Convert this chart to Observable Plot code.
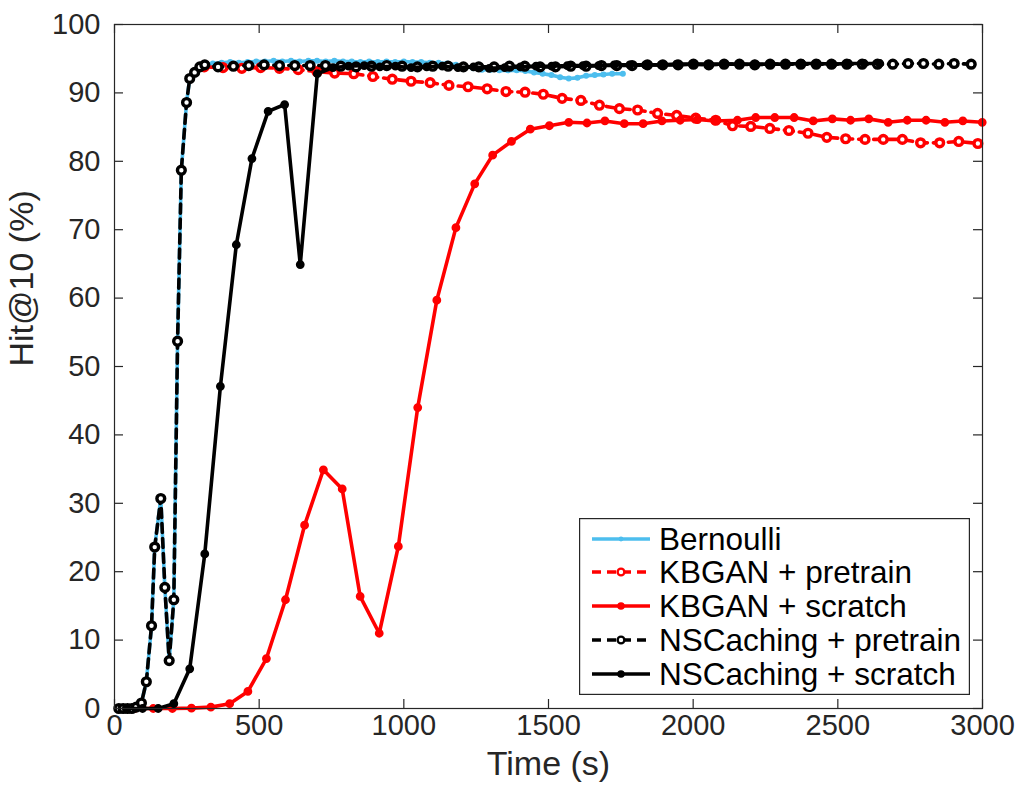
<!DOCTYPE html>
<html><head><meta charset="utf-8">
<script src="https://cdn.jsdelivr.net/npm/d3@7"></script>
<script src="https://cdn.jsdelivr.net/npm/@observablehq/plot@0.6"></script>
<style>
body{margin:0;background:#fff;}
#wrap{position:relative;width:1027px;height:799px;font-family:"Liberation Sans",Arial,Helvetica,sans-serif;}
#legend{position:absolute;left:579px;top:518px;}
</style>
</head><body><div id="wrap"></div>
<script>
// ---- data (time in s, Hit@10 in %) ----
const xTicks = [0, 500, 1000, 1500, 2000, 2500, 3000];
const yTicks = [0, 10, 20, 30, 40, 50, 60, 70, 80, 90, 100];

const bernoulliT = [15,30,45,60,75,93,110,128,139,160,174,189,205,218,231,249,260,277,295,312,
  340,370,400,430,460,490,520,550,580,610,640,670,700,730,760,790,820,850,880,910,940,970,1000,
  1030,1060,1090,1120,1150,1180,1210,1240,1270,1300,1330,1360,1390,1420,1450,1480,1510,1540,1570,
  1600,1630,1660,1690,1720,1757];
const bernoulliV = [0,0,0,0,0.2,0.8,3.9,12.1,23.6,30.7,17.7,7.0,15.9,53.7,78.7,88.6,92.1,93.0,93.8,94.1,
  94.3,94.4,94.5,94.4,94.5,94.6,94.6,94.7,94.6,94.7,94.6,94.7,94.7,94.6,94.7,94.6,94.6,94.5,94.6,94.5,94.6,94.5,94.6,
  94.5,94.5,94.4,94.4,94.3,94.1,93.9,93.6,93.4,93.4,93.3,93.3,93.3,93.2,93.0,92.8,92.6,92.3,92.1,
  92.2,92.5,92.6,92.7,92.8,92.8];

const kbganPreT = [310,375,440,505,570,635,700,761,827,893,960,1025,1091,1156,1222,1288,1353,1419,1482,1547,
  1612,1676,1745,1808,1877,1943,2009,2078,2136,2199,2265,2331,2397,2462,2527,2594,2657,2723,2786,2852,2918,2984];
const kbganPreV = [93.8,93.7,93.6,93.7,93.6,93.4,93.1,92.9,92.8,92.4,92.0,91.7,91.5,91.1,90.9,90.6,90.2,90.1,89.8,89.2,
  88.9,88.2,87.7,87.5,87.0,86.7,86.3,86.0,85.2,85.1,84.8,84.5,84.1,83.5,83.3,83.2,83.2,83.2,82.7,82.7,82.9,82.6];

const kbganScrT = [70,134,200,266,333,398,461,525,591,657,722,787,849,915,981,1048,1114,1180,1245,1307,
  1372,1437,1503,1570,1633,1695,1762,1827,1892,1955,2015,2075,2153,2216,2282,2349,2415,2481,2544,2607,
  2674,2740,2805,2870,2932,2999];
const kbganScrV = [0,0,0,0.05,0.2,0.7,2.5,7.3,15.9,26.8,34.9,32.1,16.4,11.0,23.7,44.0,59.7,70.3,76.7,80.9,
  82.9,84.7,85.2,85.7,85.6,85.9,85.5,85.5,85.9,86.0,86.1,85.9,86.0,86.4,86.4,86.4,85.9,86.2,86.0,86.2,
  85.7,86.0,86.0,85.7,85.9,85.7];

const nscPreT = [15,30,45,60,75,93,110,128,139,160,174,189,205,218,231,249,260,277,295,312,
  358,411,464,517,570,623,676,729,782,835,888,941,994,1047,1100,1153,1206,1259,1312,1365,1418,1471,1524,1577,
  1630,1683,1736,1789,1842,1895,1948,2001,2054,2107,2160,2213,2266,2319,2372,2425,2478,2531,2584,2637,
  2690,2743,2796,2849,2902,2961];
const nscPreV = [0,0,0,0,0.2,0.8,3.9,12.1,23.6,30.7,17.7,7.0,15.9,53.7,78.7,88.6,92.1,93.0,93.8,94.1,
  93.8,93.9,94.0,94.1,94.0,94.0,94.0,94.0,93.9,93.8,93.9,94.0,93.9,93.8,93.9,93.9,93.8,93.8,93.8,93.9,93.9,93.8,93.8,93.9,
  93.9,94.0,94.0,94.0,94.1,94.1,94.1,94.2,94.1,94.2,94.2,94.1,94.2,94.2,94.2,94.2,94.2,94.2,94.2,94.2,
  94.2,94.3,94.3,94.2,94.3,94.2];

const nscScrT = [43,97,151,205,260,312,366,421,475,531,588,642,701,
  755,809,863,917,971,1025,1079,1133,1187,1241,1295,1349,1403,1457,1511,1565,1619,1673,1727,1781,
  1835,1889,1943,1997,2051,2105,2159,2213,2267,2321,2375,2429,2483,2537,2591,2645];
const nscScrV = [0,0,0,0.7,5.8,22.6,47.1,67.8,80.4,87.3,88.3,64.9,92.8,
  93.7,93.9,94.0,93.8,93.9,93.7,93.8,93.9,93.7,93.8,93.6,93.7,93.8,93.9,93.9,94.0,94.0,94.0,94.1,94.1,
  94.1,94.1,94.2,94.2,94.2,94.2,94.2,94.2,94.2,94.2,94.3,94.3,94.2,94.3,94.3,94.3];

const seriesNames = ["Bernoulli", "KBGAN + pretrain", "KBGAN + scratch", "NSCaching + pretrain", "NSCaching + scratch"];
const seriesColors = ["#4DBEEE", "#FF0000", "#FF0000", "#000000", "#000000"];
const seriesDashed = [false, true, false, true, false];
const seriesOpenMarker = [false, true, false, true, false];
const seriesT = [bernoulliT, kbganPreT, kbganScrT, nscPreT, nscScrT];
const seriesV = [bernoulliV, kbganPreV, kbganScrV, nscPreV, nscScrV];

// ---- layout ----
const W = 1027, H = 799, mL = 114, mR = 45, mT = 24, mB = 91;
const fw = W - mL - mR, fh = H - mT - mB;
const ink = "#262626";
const font = "Liberation Sans, Arial, Helvetica, sans-serif";

const tables = seriesNames.map((name, k) => {
  const n = Math.min(seriesT[k].length, seriesV[k].length);
  return d3.range(n).map(i => ({name, t: seriesT[k][i], v: seriesV[k][i]}));
});

const marks = [];
tables.forEach((rows, k) => {
  const c = seriesColors[k];
  marks.push(Plot.line(rows, {x: "t", y: "v", stroke: c, strokeWidth: 3.6,
    strokeDasharray: seriesDashed[k] ? "9,6" : null, strokeLinejoin: "round"}));
  if (k === 0) {
    marks.push(Plot.dot(rows, {x: "t", y: "v", r: 2.4, fill: c, stroke: c, strokeWidth: 1.2}));
  } else if (seriesOpenMarker[k]) {
    marks.push(Plot.dot(rows, {x: "t", y: "v", r: 3.9, fill: "white", stroke: c, strokeWidth: 3.4}));
  } else {
    marks.push(Plot.dot(rows, {x: "t", y: "v", r: 3.4, fill: c, stroke: c, strokeWidth: 2}));
  }
});

const plot = Plot.plot({
  width: W, height: H,
  marginLeft: mL, marginRight: mR, marginTop: mT, marginBottom: mB,
  style: {fontFamily: font, color: ink, background: "white", overflow: "visible"},
  x: {domain: [0, 3000], axis: null},
  y: {domain: [0, 100], axis: null},
  marks: [
    ...marks,
    Plot.frame({stroke: ink, strokeWidth: 1.2}),
    Plot.ruleX(xTicks, {x: d => d, insetTop: fh - 9, stroke: ink, strokeWidth: 1.2}),
    Plot.ruleX(xTicks, {x: d => d, insetBottom: fh - 9, stroke: ink, strokeWidth: 1.2}),
    Plot.ruleY(yTicks, {y: d => d, insetRight: fw - 9, stroke: ink, strokeWidth: 1.2}),
    Plot.ruleY(yTicks, {y: d => d, insetLeft: fw - 9, stroke: ink, strokeWidth: 1.2}),
    Plot.text(xTicks, {x: d => d, text: d => String(d), frameAnchor: "bottom", dy: 26, fontSize: 29, fill: ink}),
    Plot.text(yTicks, {y: d => d, text: d => String(d), frameAnchor: "left", dx: -14, textAnchor: "end", fontSize: 29, fill: ink}),
    Plot.text(["Time (s)"], {frameAnchor: "bottom", dy: 66, fontSize: 34, fill: ink}),
    Plot.text(["Hit@10 (%)"], {frameAnchor: "left", dx: -92, rotate: -90, fontSize: 34, fill: ink})
  ]
});
const wrap = document.getElementById("wrap");
wrap.appendChild(plot);

// ---- legend (inside the axes, lower right) ----
const LW = 391, LH = 177, rowY = [21, 54, 88, 122, 156];
const leg = d3.select(wrap).append("svg").attr("id", "legend")
  .attr("width", LW).attr("height", LH).style("font-family", font);
leg.append("rect").attr("x", 0.6).attr("y", 0.6).attr("width", LW - 1.2).attr("height", LH - 1.2)
  .attr("fill", "white").attr("stroke", ink).attr("stroke-width", 1.2);
seriesNames.forEach((name, k) => {
  const g = leg.append("g").attr("transform", `translate(0,${rowY[k]})`);
  const c = seriesColors[k];
  g.append("line").attr("x1", 13).attr("x2", 71).attr("y1", 0).attr("y2", 0)
    .attr("stroke", c).attr("stroke-width", 3.5)
    .attr("stroke-dasharray", seriesDashed[k] ? "9,6" : null);
  if (k === 0) g.append("circle").attr("cx", 42).attr("r", 2.4).attr("fill", c);
  else g.append("circle").attr("cx", 42).attr("r", seriesOpenMarker[k] ? 3.4 : 2.6)
    .attr("fill", seriesOpenMarker[k] ? "white" : c).attr("stroke", c).attr("stroke-width", 2.4);
  g.append("text").attr("x", 80).attr("y", 0).attr("dy", "0.36em")
    .attr("font-size", 31.5).attr("fill", "#000").text(name);
});
</script>
</body></html>
